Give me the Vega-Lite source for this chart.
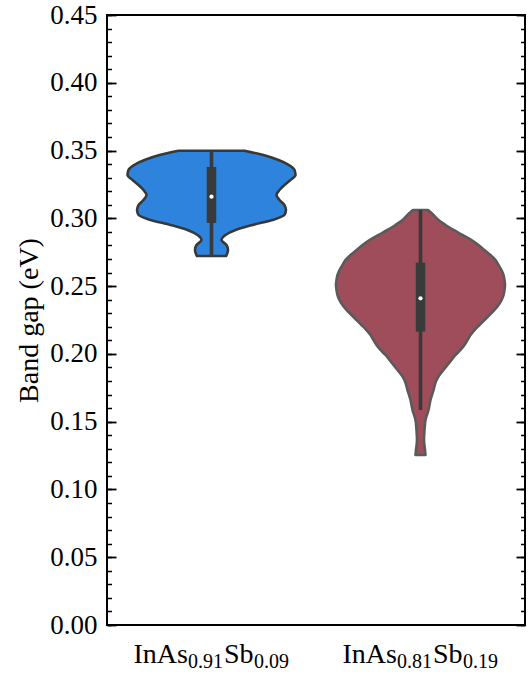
{
  "$schema": "https://vega.github.io/schema/vega-lite/v6.json",
  "width": 418,
  "height": 610,
  "autosize": {"type": "none"},
  "padding": {"left": 107, "top": 15, "right": 6, "bottom": 50},
  "background": "white",
  "config": {"font": "Liberation Serif", "view": {"stroke": "black", "strokeWidth": 2}},
  "datasets": {
    "violin": [
      {"alloy": "InAs0.91Sb0.09", "gap": 0.3499, "width": 1.263},
      {"alloy": "InAs0.91Sb0.09", "gap": 0.3467, "width": 1.99},
      {"alloy": "InAs0.91Sb0.09", "gap": 0.3430, "width": 2.565},
      {"alloy": "InAs0.91Sb0.09", "gap": 0.3393, "width": 2.967},
      {"alloy": "InAs0.91Sb0.09", "gap": 0.3357, "width": 3.177},
      {"alloy": "InAs0.91Sb0.09", "gap": 0.3320, "width": 3.215},
      {"alloy": "InAs0.91Sb0.09", "gap": 0.3283, "width": 3.024},
      {"alloy": "InAs0.91Sb0.09", "gap": 0.3246, "width": 2.794},
      {"alloy": "InAs0.91Sb0.09", "gap": 0.3209, "width": 2.603},
      {"alloy": "InAs0.91Sb0.09", "gap": 0.3172, "width": 2.488},
      {"alloy": "InAs0.91Sb0.09", "gap": 0.3135, "width": 2.603},
      {"alloy": "InAs0.91Sb0.09", "gap": 0.3098, "width": 2.794},
      {"alloy": "InAs0.91Sb0.09", "gap": 0.3061, "width": 2.85},
      {"alloy": "InAs0.91Sb0.09", "gap": 0.3025, "width": 2.794},
      {"alloy": "InAs0.91Sb0.09", "gap": 0.2988, "width": 2.335},
      {"alloy": "InAs0.91Sb0.09", "gap": 0.2951, "width": 1.569},
      {"alloy": "InAs0.91Sb0.09", "gap": 0.2914, "width": 0.919},
      {"alloy": "InAs0.91Sb0.09", "gap": 0.2877, "width": 0.536},
      {"alloy": "InAs0.91Sb0.09", "gap": 0.2840, "width": 0.383},
      {"alloy": "InAs0.91Sb0.09", "gap": 0.2803, "width": 0.574},
      {"alloy": "InAs0.91Sb0.09", "gap": 0.2766, "width": 0.632},
      {"alloy": "InAs0.91Sb0.09", "gap": 0.2737, "width": 0.593},
      {"alloy": "InAs0.91Sb0.09", "gap": 0.2722, "width": 0.555},
      {"alloy": "InAs0.81Sb0.19", "gap": 0.3061, "width": 0.287},
      {"alloy": "InAs0.81Sb0.19", "gap": 0.3025, "width": 0.498},
      {"alloy": "InAs0.81Sb0.19", "gap": 0.2988, "width": 0.689},
      {"alloy": "InAs0.81Sb0.19", "gap": 0.2951, "width": 0.957},
      {"alloy": "InAs0.81Sb0.19", "gap": 0.2914, "width": 1.263},
      {"alloy": "InAs0.81Sb0.19", "gap": 0.2877, "width": 1.608},
      {"alloy": "InAs0.81Sb0.19", "gap": 0.2840, "width": 1.952},
      {"alloy": "InAs0.81Sb0.19", "gap": 0.2803, "width": 2.22},
      {"alloy": "InAs0.81Sb0.19", "gap": 0.2766, "width": 2.45},
      {"alloy": "InAs0.81Sb0.19", "gap": 0.2729, "width": 2.679},
      {"alloy": "InAs0.81Sb0.19", "gap": 0.2693, "width": 2.871},
      {"alloy": "InAs0.81Sb0.19", "gap": 0.2656, "width": 2.986},
      {"alloy": "InAs0.81Sb0.19", "gap": 0.2619, "width": 3.1},
      {"alloy": "InAs0.81Sb0.19", "gap": 0.2582, "width": 3.177},
      {"alloy": "InAs0.81Sb0.19", "gap": 0.2545, "width": 3.215},
      {"alloy": "InAs0.81Sb0.19", "gap": 0.2508, "width": 3.234},
      {"alloy": "InAs0.81Sb0.19", "gap": 0.2471, "width": 3.215},
      {"alloy": "InAs0.81Sb0.19", "gap": 0.2434, "width": 3.177},
      {"alloy": "InAs0.81Sb0.19", "gap": 0.2397, "width": 3.1},
      {"alloy": "InAs0.81Sb0.19", "gap": 0.2361, "width": 2.986},
      {"alloy": "InAs0.81Sb0.19", "gap": 0.2324, "width": 2.833},
      {"alloy": "InAs0.81Sb0.19", "gap": 0.2287, "width": 2.641},
      {"alloy": "InAs0.81Sb0.19", "gap": 0.2250, "width": 2.45},
      {"alloy": "InAs0.81Sb0.19", "gap": 0.2213, "width": 2.258},
      {"alloy": "InAs0.81Sb0.19", "gap": 0.2176, "width": 2.067},
      {"alloy": "InAs0.81Sb0.19", "gap": 0.2139, "width": 1.914},
      {"alloy": "InAs0.81Sb0.19", "gap": 0.2102, "width": 1.799},
      {"alloy": "InAs0.81Sb0.19", "gap": 0.2066, "width": 1.684},
      {"alloy": "InAs0.81Sb0.19", "gap": 0.2029, "width": 1.531},
      {"alloy": "InAs0.81Sb0.19", "gap": 0.1992, "width": 1.34},
      {"alloy": "InAs0.81Sb0.19", "gap": 0.1955, "width": 1.187},
      {"alloy": "InAs0.81Sb0.19", "gap": 0.1918, "width": 1.033},
      {"alloy": "InAs0.81Sb0.19", "gap": 0.1881, "width": 0.88},
      {"alloy": "InAs0.81Sb0.19", "gap": 0.1844, "width": 0.727},
      {"alloy": "InAs0.81Sb0.19", "gap": 0.1807, "width": 0.612},
      {"alloy": "InAs0.81Sb0.19", "gap": 0.1733, "width": 0.498},
      {"alloy": "InAs0.81Sb0.19", "gap": 0.1660, "width": 0.383},
      {"alloy": "InAs0.81Sb0.19", "gap": 0.1586, "width": 0.306},
      {"alloy": "InAs0.81Sb0.19", "gap": 0.1512, "width": 0.191},
      {"alloy": "InAs0.81Sb0.19", "gap": 0.1438, "width": 0.153},
      {"alloy": "InAs0.81Sb0.19", "gap": 0.1365, "width": 0.134},
      {"alloy": "InAs0.81Sb0.19", "gap": 0.1291, "width": 0.172},
      {"alloy": "InAs0.81Sb0.19", "gap": 0.1254, "width": 0.191}
    ],
    "stats": [
      {"alloy": "InAs0.91Sb0.09", "wlo": 0.2722, "whi": 0.3499, "q1": 0.2966, "q3": 0.3379, "median": 0.3160},
      {"alloy": "InAs0.81Sb0.19", "wlo": 0.1586, "whi": 0.3061, "q1": 0.2164, "q3": 0.2673, "median": 0.2410}
    ],
    "labels": [
      {"alloy": "InAs0.91Sb0.09", "base1": "InAs", "sub1": "0.91", "base2": "Sb", "sub2": "0.09"},
      {"alloy": "InAs0.81Sb0.19", "base1": "InAs", "sub1": "0.81", "base2": "Sb", "sub2": "0.19"}
    ]
  },
  "resolve": {"scale": {"x": "independent"}, "axis": {"x": "independent", "y": "independent"}},
  "layer": [
    {
      "data": {"name": "violin"},
      "transform": [{"filter": "datum.alloy === 'InAs0.91Sb0.09'"}],
      "mark": {"type": "area", "orient": "horizontal", "interpolate": "monotone", "fill": "#2E84DD", "stroke": "#383838", "strokeWidth": 2.6, "strokeJoin": "round"},
      "encoding": {
        "y": {"field": "gap", "type": "quantitative", "scale": {"domain": [0, 0.45]},
          "axis": {"orient": "left", "values": [0, 0.05, 0.1, 0.15, 0.2, 0.25, 0.3, 0.35, 0.4, 0.45], "format": ".2f",
            "domain": false, "grid": false, "tickSize": -9, "tickWidth": 1.8, "tickColor": "black",
            "labelFont": "Liberation Serif", "labelFontSize": 27, "labelColor": "black", "labelPadding": 19,
            "title": "Band gap (eV)", "titleFont": "Liberation Serif", "titleFontSize": 28, "titleFontWeight": "normal", "titleColor": "black", "titlePadding": 6}},
        "x": {"field": "width", "type": "quantitative", "stack": "center", "scale": {"domain": [-0.3925, 7.6075]}, "axis": null}
      }
    },
    {
      "data": {"name": "violin"},
      "transform": [{"filter": "datum.alloy === 'InAs0.81Sb0.19'"}],
      "mark": {"type": "area", "orient": "horizontal", "interpolate": "monotone", "fill": "#A04D5B", "stroke": "#5a5a5a", "strokeWidth": 2.6, "strokeJoin": "round"},
      "encoding": {
        "y": {"field": "gap", "type": "quantitative", "scale": {"domain": [0, 0.45]},
          "axis": {"orient": "right", "values": [0, 0.05, 0.1, 0.15, 0.2, 0.25, 0.3, 0.35, 0.4, 0.45],
            "domain": false, "grid": false, "labels": false, "tickSize": -9, "tickWidth": 1.8, "tickColor": "black", "title": null}},
        "x": {"field": "width", "type": "quantitative", "stack": "center", "scale": {"domain": [-4.383, 3.617]}, "axis": null}
      }
    },
    {
      "data": {"name": "stats"},
      "mark": {"type": "rule", "color": "#3a3a3a", "strokeWidth": 3.6},
      "encoding": {
        "x": {"field": "alloy", "type": "nominal", "sort": null, "scale": {"type": "point", "padding": 0.5}, "axis": null},
        "y": {"field": "wlo", "type": "quantitative", "scale": {"domain": [0, 0.45]},
          "axis": {"orient": "left", "values": [0,0.01,0.02,0.03,0.04,0.05,0.06,0.07,0.08,0.09,0.1,0.11,0.12,0.13,0.14,0.15,0.16,0.17,0.18,0.19,0.2,0.21,0.22,0.23,0.24,0.25,0.26,0.27,0.28,0.29,0.3,0.31,0.32,0.33,0.34,0.35,0.36,0.37,0.38,0.39,0.4,0.41,0.42,0.43,0.44,0.45],
            "domain": false, "grid": false, "labels": false, "tickSize": -4.5, "tickWidth": 1.5, "tickColor": "black", "title": null}},
        "y2": {"field": "whi"}
      }
    },
    {
      "data": {"name": "stats"},
      "mark": {"type": "rule", "color": "#3a3a3a", "strokeWidth": 9.5, "strokeCap": "butt"},
      "encoding": {
        "x": {"field": "alloy", "type": "nominal", "sort": null, "scale": {"type": "point", "padding": 0.5}, "axis": null},
        "y": {"field": "q1", "type": "quantitative", "scale": {"domain": [0, 0.45]},
          "axis": {"orient": "right", "values": [0,0.01,0.02,0.03,0.04,0.05,0.06,0.07,0.08,0.09,0.1,0.11,0.12,0.13,0.14,0.15,0.16,0.17,0.18,0.19,0.2,0.21,0.22,0.23,0.24,0.25,0.26,0.27,0.28,0.29,0.3,0.31,0.32,0.33,0.34,0.35,0.36,0.37,0.38,0.39,0.4,0.41,0.42,0.43,0.44,0.45],
            "domain": false, "grid": false, "labels": false, "tickSize": -4.5, "tickWidth": 1.5, "tickColor": "black", "title": null}},
        "y2": {"field": "q3"}
      }
    },
    {
      "data": {"name": "stats"},
      "mark": {"type": "point", "filled": true, "color": "white", "size": 18, "opacity": 1, "strokeWidth": 0},
      "encoding": {
        "x": {"field": "alloy", "type": "nominal", "sort": null, "scale": {"type": "point", "padding": 0.5}, "axis": null},
        "y": {"field": "median", "type": "quantitative", "scale": {"domain": [0, 0.45]}, "axis": null}
      }
    },
    {
      "data": {"name": "labels"},
      "mark": {"type": "text", "align": "left", "baseline": "alphabetic", "fontSize": 28, "dx": -78, "dy": 37.5, "color": "black", "font": "Liberation Serif"},
      "encoding": {
        "x": {"field": "alloy", "type": "nominal", "sort": null, "scale": {"type": "point", "padding": 0.5}, "axis": null},
        "y": {"datum": 0, "type": "quantitative", "scale": {"domain": [0, 0.45]}, "axis": null},
        "text": {"field": "base1"}
      }
    },
    {
      "data": {"name": "labels"},
      "mark": {"type": "text", "align": "left", "baseline": "alphabetic", "fontSize": 20, "dx": -23.5, "dy": 43, "color": "black", "font": "Liberation Serif"},
      "encoding": {
        "x": {"field": "alloy", "type": "nominal", "sort": null, "scale": {"type": "point", "padding": 0.5}, "axis": null},
        "y": {"datum": 0, "type": "quantitative", "scale": {"domain": [0, 0.45]}, "axis": null},
        "text": {"field": "sub1"}
      }
    },
    {
      "data": {"name": "labels"},
      "mark": {"type": "text", "align": "left", "baseline": "alphabetic", "fontSize": 28, "dx": 12.5, "dy": 37.5, "color": "black", "font": "Liberation Serif"},
      "encoding": {
        "x": {"field": "alloy", "type": "nominal", "sort": null, "scale": {"type": "point", "padding": 0.5}, "axis": null},
        "y": {"datum": 0, "type": "quantitative", "scale": {"domain": [0, 0.45]}, "axis": null},
        "text": {"field": "base2"}
      }
    },
    {
      "data": {"name": "labels"},
      "mark": {"type": "text", "align": "left", "baseline": "alphabetic", "fontSize": 20, "dx": 42.5, "dy": 43, "color": "black", "font": "Liberation Serif"},
      "encoding": {
        "x": {"field": "alloy", "type": "nominal", "sort": null, "scale": {"type": "point", "padding": 0.5}, "axis": null},
        "y": {"datum": 0, "type": "quantitative", "scale": {"domain": [0, 0.45]}, "axis": null},
        "text": {"field": "sub2"}
      }
    }
  ]
}
